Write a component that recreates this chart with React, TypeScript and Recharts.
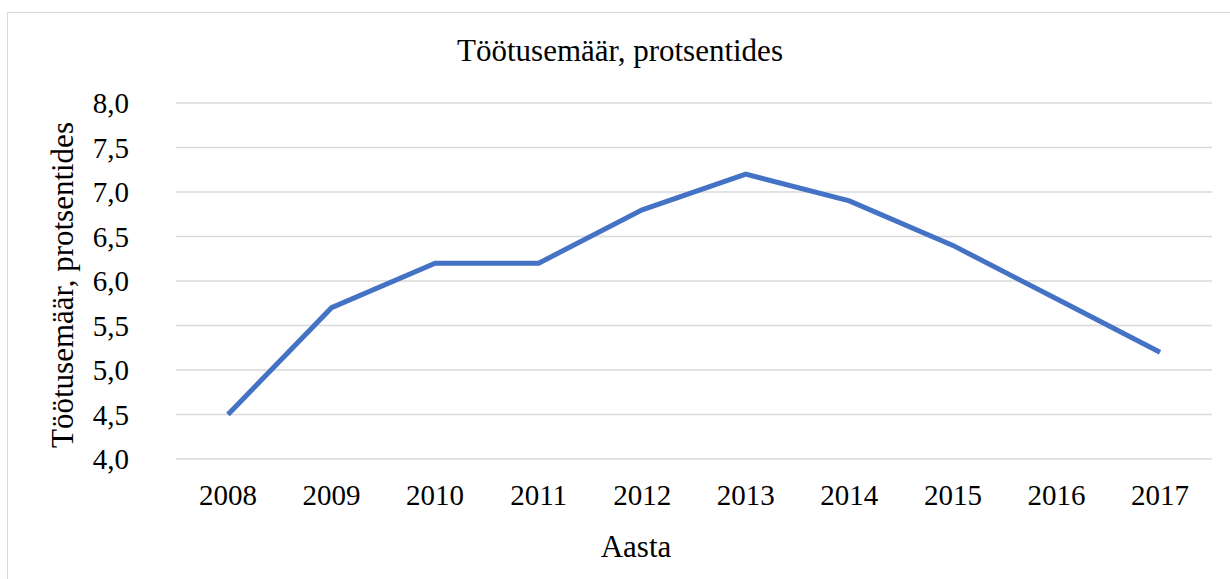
import { LineChart, Line, XAxis, YAxis, CartesianGrid } from 'recharts';

const years = ['2008', '2009', '2010', '2011', '2012', '2013', '2014', '2015', '2016', '2017'];
const rates = [4.5, 5.7, 6.2, 6.2, 6.8, 7.2, 6.9, 6.4, 5.8, 5.2];
const yTicks = [4, 4.5, 5, 5.5, 6, 6.5, 7, 7.5, 8];

const chartTitle = 'Töötusemäär, protsentides';
const yLabel = 'Töötusemäär, protsentides';
const xLabel = 'Aasta';

const FONT = '"Liberation Serif", "Times New Roman", serif';

const data = years.map((y, i) => ({ year: y, rate: rates[i] }));

export default function App() {
  return (
    <div
      style={{
        position: 'absolute',
        left: 0,
        top: 0,
        width: 1230,
        height: 579,
        background: '#fff',
        overflow: 'hidden',
        fontFamily: FONT,
        color: '#000',
      }}
    >
      {/* chart frame, cut by the right and bottom edges */}
      <div
        style={{
          position: 'absolute',
          left: 7,
          top: 12,
          width: 1240,
          height: 600,
          border: '1.5px solid #d9d9d9',
        }}
      />
      <div
        style={{
          position: 'absolute',
          left: 0,
          top: 31,
          width: 1240,
          textAlign: 'center',
          fontSize: 31,
          lineHeight: '40px',
        }}
      >
        {chartTitle}
      </div>
      <div
        style={{
          position: 'absolute',
          left: 63,
          top: 285,
          transform: 'translate(-50%, -50%) rotate(-90deg)',
          whiteSpace: 'nowrap',
          fontSize: 31,
          lineHeight: '34px',
        }}
      >
        {yLabel}
      </div>
      <div
        style={{
          position: 'absolute',
          left: 0,
          top: 527,
          width: 1272,
          textAlign: 'center',
          fontSize: 31,
          lineHeight: '40px',
        }}
      >
        {xLabel}
      </div>
      <div style={{ position: 'absolute', left: 0, top: 0 }}>
        <LineChart
          width={1230}
          height={579}
          data={data}
          margin={{ top: 103, right: 18, left: 76, bottom: 60 }}
        >
          <CartesianGrid vertical={false} stroke="#d9d9d9" strokeWidth={1.5} />
          <XAxis
            dataKey="year"
            axisLine={false}
            tickLine={false}
            tickSize={0}
            tickMargin={25}
            height={60}
            interval={0}
            padding={{ left: 52, right: 52 }}
            tick={{ fontSize: 29, fill: '#000', fontFamily: FONT }}
          />
          <YAxis
            domain={[4, 8]}
            ticks={yTicks}
            axisLine={false}
            tickLine={false}
            tickSize={0}
            tickMargin={47}
            width={100}
            tickFormatter={(v: number) => v.toFixed(1).replace('.', ',')}
            tick={{ fontSize: 29, fill: '#000', fontFamily: FONT }}
          />
          <Line
            type="linear"
            dataKey="rate"
            stroke="#4472c4"
            strokeWidth={5}
            dot={false}
            isAnimationActive={false}
          />
        </LineChart>
      </div>
    </div>
  );
}
